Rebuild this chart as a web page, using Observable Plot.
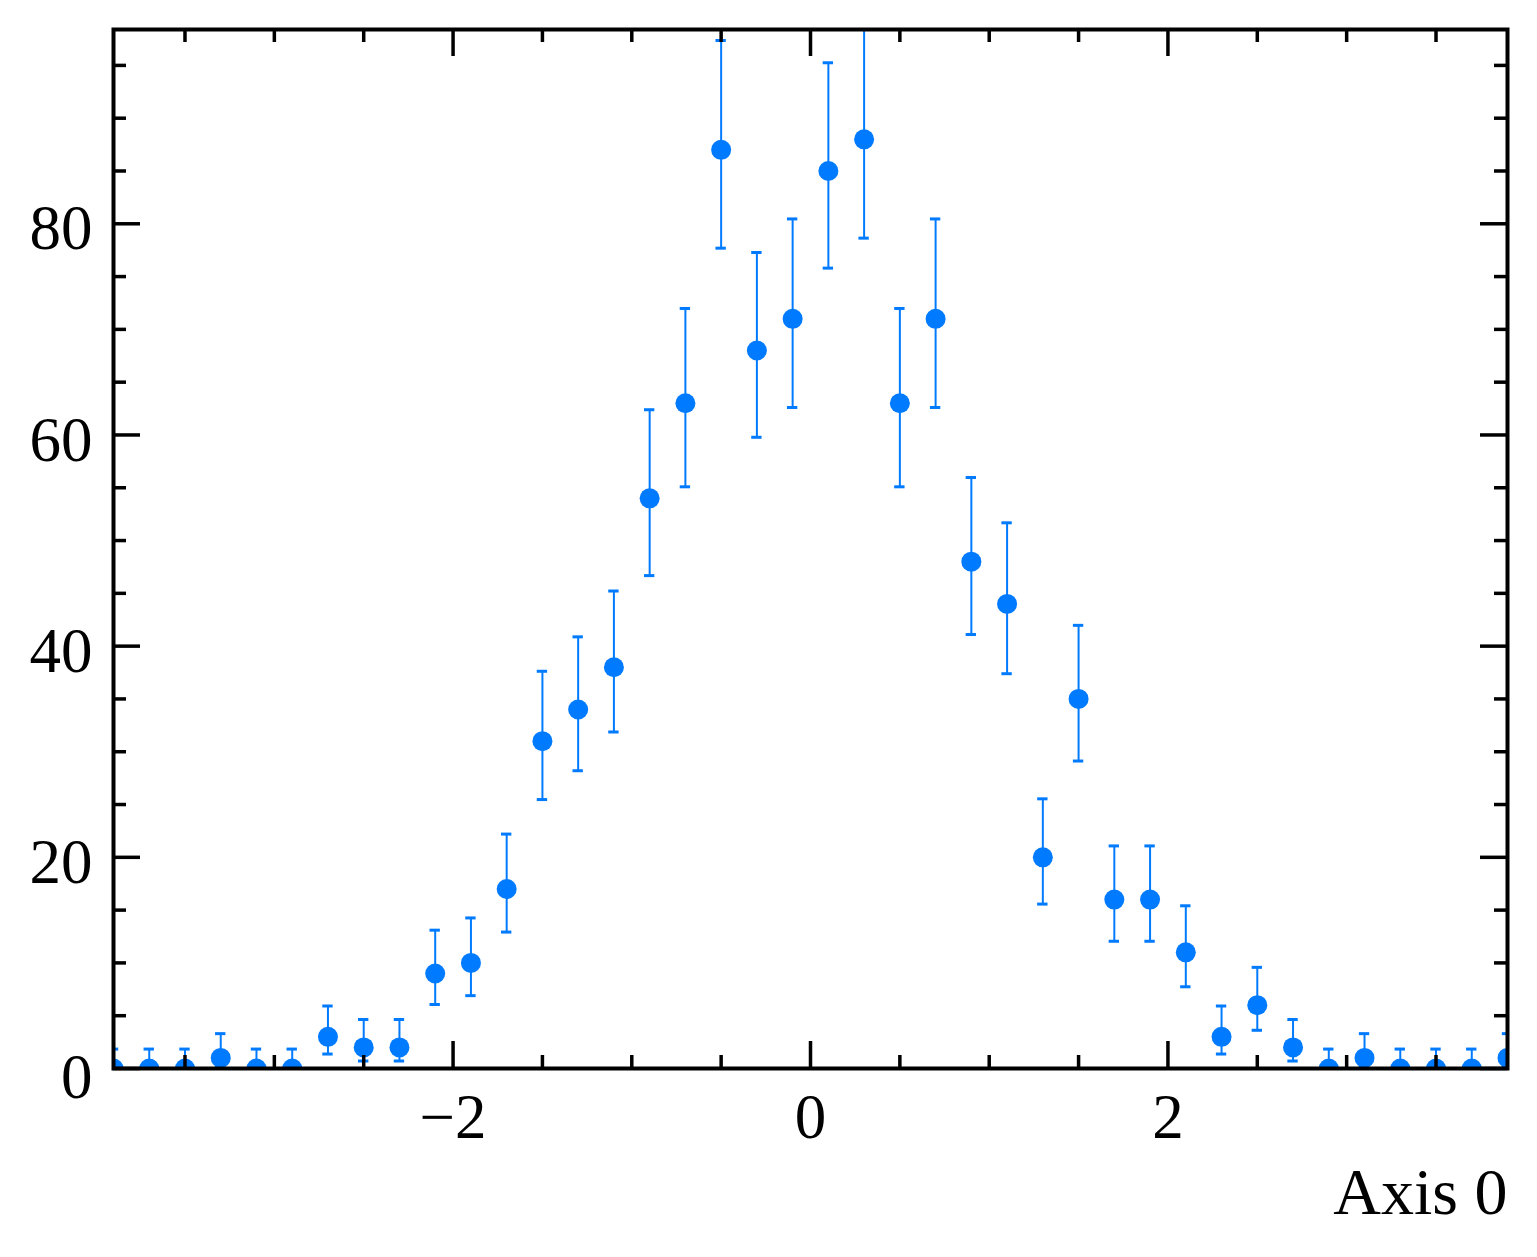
<!DOCTYPE html>
<html>
<head>
<meta charset="utf-8">
<script src="https://cdn.jsdelivr.net/npm/d3@7"></script>
<script src="https://cdn.jsdelivr.net/npm/@observablehq/plot@0.6"></script>
<style>
  html, body { margin: 0; padding: 0; background: white; }
</style>
</head>
<body>
<div id="chart"></div>
<script>
// Bin centers (Axis 0)
const binCenters = [-3.9, -3.7, -3.5, -3.3, -3.1, -2.9, -2.7, -2.5, -2.3, -2.1,
  -1.9, -1.7, -1.5, -1.3, -1.1, -0.9, -0.7, -0.5, -0.3, -0.1,
  0.1, 0.3, 0.5, 0.7, 0.9, 1.1, 1.3, 1.5, 1.7, 1.9,
  2.1, 2.3, 2.5, 2.7, 2.9, 3.1, 3.3, 3.5, 3.7, 3.9];
// Counts per bin
const counts = [0, 0, 0, 1, 0, 0, 3, 2, 2, 9,
  10, 17, 31, 34, 38, 54, 63, 87, 68, 71,
  85, 88, 63, 71, 48, 44, 20, 35, 16, 16,
  11, 3, 6, 2, 0, 1, 0, 0, 0, 1];
// Lower / upper ends of the error bars
const errLow = [0, 0, 0, 0.17, 0, 0, 1.37, 0.71, 0.71, 6.06,
  6.90, 12.92, 25.47, 28.20, 31.87, 46.68, 55.09, 77.69, 59.78, 62.60,
  75.80, 78.64, 55.09, 62.60, 41.10, 37.39, 15.57, 29.12, 12.05, 12.05,
  7.74, 1.37, 3.62, 0.71, 0, 0.17, 0, 0, 0, 0.17];
const errHigh = [1.84, 1.84, 1.84, 3.30, 1.84, 1.84, 5.92, 4.64, 4.64, 13.10,
  14.26, 22.20, 37.62, 40.88, 45.22, 62.39, 71.98, 97.36, 77.28, 80.46,
  95.25, 98.41, 71.98, 80.46, 55.97, 51.68, 25.54, 41.97, 21.08, 21.08,
  15.41, 5.92, 9.58, 4.64, 1.84, 3.30, 1.84, 1.84, 1.84, 3.30];

// Axis ticks
const xMajorTicks = [-2, 0, 2];
const xMinorTicks = [-3.5, -3, -2.5, -1.5, -1, -0.5, 0.5, 1, 1.5, 2.5, 3, 3.5];
const yMajorTicks = [0, 20, 40, 60, 80];
const yMinorTicks = [5, 10, 15, 25, 30, 35, 45, 50, 55, 65, 70, 75, 85, 90, 95];
const xLabel = "Axis 0";

const data = binCenters.map((x, i) => ({x, y: counts[i], lo: errLow[i], hi: errHigh[i]}));

const W = 1537, H = 1257;
const mL = 113, mR = 30, mT = 29, mB = 189;
const plotW = W - mL - mR, plotH = H - mT - mB;
const majorLen = 27, minorLen = 13;
const color = "#007aff";
const capHalf = 0.029;
const fmt = d3.format("d");

const chart = Plot.plot({
  width: W,
  height: H,
  marginLeft: mL,
  marginRight: mR,
  marginTop: mT,
  marginBottom: mB,
  style: {fontFamily: "'Liberation Serif', 'DejaVu Serif', serif", fontSize: "63px", background: "white", color: "black"},
  x: {domain: [-3.9, 3.9]},
  y: {domain: [0, 98.4]},
  marks: [
    // error bars
    Plot.ruleX(data, {x: "x", y1: "lo", y2: "hi", stroke: color, strokeWidth: 2, clip: true}),
    Plot.ruleY(data, {y: "hi", x1: d => d.x - capHalf, x2: d => d.x + capHalf, stroke: color, strokeWidth: 3, clip: true}),
    Plot.ruleY(data, {y: "lo", x1: d => d.x - capHalf, x2: d => d.x + capHalf, stroke: color, strokeWidth: 3, clip: true}),
    // points
    Plot.dot(data, {x: "x", y: "y", r: 10, fill: color, stroke: "none", clip: true}),
    // inward ticks: bottom & top
    Plot.tickX(xMajorTicks, {x: d => d, insetTop: plotH - majorLen, stroke: "black", strokeWidth: 3.5}),
    Plot.tickX(xMajorTicks, {x: d => d, insetBottom: plotH - majorLen, stroke: "black", strokeWidth: 3.5}),
    Plot.tickX(xMinorTicks, {x: d => d, insetTop: plotH - minorLen, stroke: "black", strokeWidth: 3.5}),
    Plot.tickX(xMinorTicks, {x: d => d, insetBottom: plotH - minorLen, stroke: "black", strokeWidth: 3.5}),
    // inward ticks: left & right
    Plot.tickY(yMajorTicks, {y: d => d, insetRight: plotW - majorLen, stroke: "black", strokeWidth: 3.5}),
    Plot.tickY(yMajorTicks, {y: d => d, insetLeft: plotW - majorLen, stroke: "black", strokeWidth: 3.5}),
    Plot.tickY(yMinorTicks, {y: d => d, insetRight: plotW - minorLen, stroke: "black", strokeWidth: 3.5}),
    Plot.tickY(yMinorTicks, {y: d => d, insetLeft: plotW - minorLen, stroke: "black", strokeWidth: 3.5}),
    // tick labels
    Plot.axisX(xMajorTicks, {tickSize: 0, tickPadding: 25, fontSize: 63, label: null, tickFormat: fmt}),
    Plot.axisY(yMajorTicks.filter(v => v !== 0), {tickSize: 0, tickPadding: 21, dy: 5.5, fontSize: 63, label: null, tickFormat: fmt}),
    Plot.axisY(yMajorTicks.filter(v => v === 0), {tickSize: 0, tickPadding: 21, dy: 9.5, fontSize: 63, label: null, tickFormat: fmt}),
    // axis label
    Plot.text([xLabel], {text: d => d, frameAnchor: "bottom-right", textAnchor: "end", lineAnchor: "bottom", dy: 145, fontSize: 66, fill: "black"}),
    Plot.frame({stroke: "black", strokeWidth: 4})
  ]
});
document.getElementById("chart").appendChild(chart);
</script>
</body>
</html>
